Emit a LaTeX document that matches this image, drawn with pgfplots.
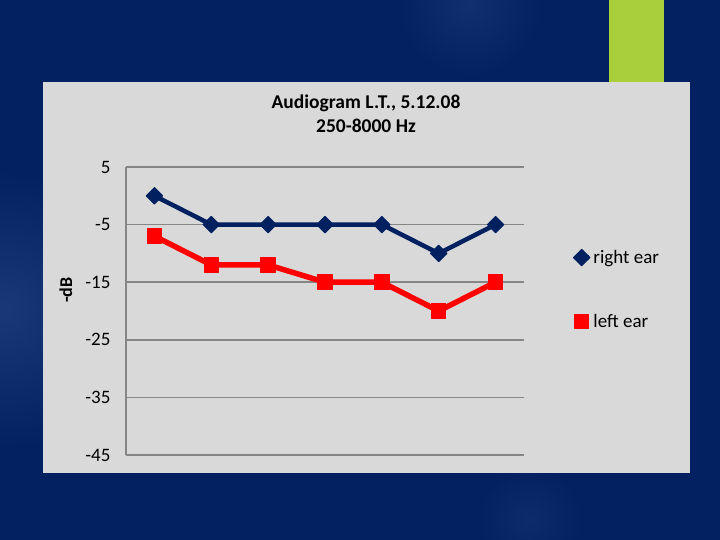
\documentclass[border=0pt]{standalone}
\usepackage{pgfplots}
\pgfplotsset{compat=1.18}
\usepackage{fontspec}
\setmainfont{Carlito}
\definecolor{bgnavy}{RGB}{3,33,96}
\definecolor{chartgray}{RGB}{217,217,217}
\definecolor{gridgray}{RGB}{134,134,134}
\definecolor{lime}{RGB}{169,208,59}
\definecolor{rightblue}{RGB}{0,32,96}
\definecolor{leftred}{RGB}{255,0,0}
\begin{document}
\begin{tikzpicture}[x=1pt,y=1pt]
\useasboundingbox (0,0) rectangle (720,540);
\begin{scope}
\clip (0,0) rectangle (720,540);
\fill[bgnavy] (0,0) rectangle (720,540);
\foreach \r in {10,16,...,140} {\fill[white, opacity=0.007] (5,230) circle (\r);}
\foreach \r in {5,10,...,70} {\fill[white, opacity=0.008] (470,535) circle (\r);}
\foreach \r in {5,10,...,50} {\fill[white, opacity=0.008] (530,20) circle (\r);}
\foreach \r in {8,16,...,90} {\fill[white, opacity=0.005] (120,525) circle (\r);}
\end{scope}
\fill[lime] (609,458) rectangle (664,540);
\fill[chartgray] (43,67) rectangle (690,458);
\node[font=\bfseries\fontsize{19.5}{24}\selectfont, align=center] at (366,426) {Audiogram L.T., 5.12.08\\250-8000 Hz};
\node[font=\bfseries\fontsize{18}{22}\selectfont, rotate=90] at (66,250) {-dB};
\begin{axis}[
  at={(126pt,85pt)}, anchor=south west,
  scale only axis, width=398pt, height=288pt,
  xmin=0, xmax=7, ymin=-45, ymax=5,
  ytick={-45,-35,-25,-15,-5,5},
  axis x line=none, axis y line=left,
  y axis line style={gridgray, line width=1.6pt, -},
  ymajorgrids, grid style={gridgray, line width=1.6pt},
  major tick length=0pt,
  /pgf/number format/assume math mode=true,
  yticklabel style={font=\fontsize{19}{22}\selectfont, xshift=-12pt},
  clip=false,
  legend style={at={(1.12,0.575)}, anchor=west, draw=none, fill=none,
    font=\fontsize{19}{22}\selectfont, row sep=45pt, inner sep=0pt},
  legend cell align=left,
  legend image code/.code={\draw[mark repeat=2,mark phase=2] plot coordinates {(0pt,0pt) (7pt,0pt) (14pt,0pt)};},
]
\addplot[rightblue, line width=4.5pt, line join=round, mark=square*, mark size=5.8pt,
  mark options={rotate=45, fill=rightblue, draw=rightblue, line width=1pt}]
  coordinates {(0.5,0) (1.5,-5) (2.5,-5) (3.5,-5) (4.5,-5) (5.5,-10) (6.5,-5)};
\addlegendentry{right ear}
\addplot[leftred, line width=5.5pt, line join=round, mark=square*, mark size=7.2pt,
  mark options={fill=leftred, draw=leftred, line width=1pt, rounded corners=2pt}]
  coordinates {(0.5,-7) (1.5,-12) (2.5,-12) (3.5,-15) (4.5,-15) (5.5,-20) (6.5,-15)};
\addlegendentry{left ear}
\end{axis}
\end{tikzpicture}
\end{document}
